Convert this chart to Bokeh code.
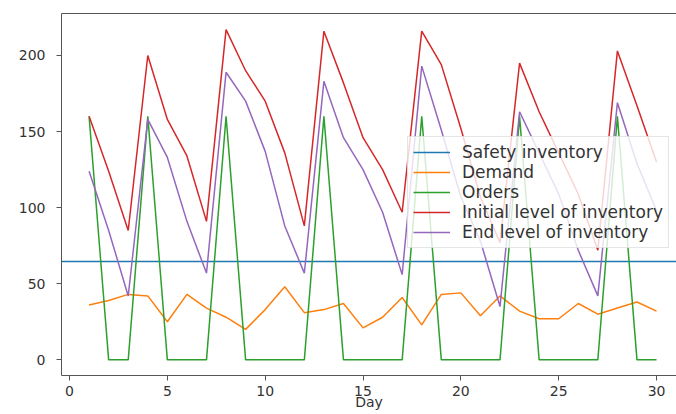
from bokeh.plotting import figure
from bokeh.models import Range1d, FixedTicker, LinearAxis
from bokeh.embed import file_html
from bokeh.resources import INLINE

# ---- data ----
days = [1, 2, 3, 4, 5, 6, 7, 8, 9, 10, 11, 12, 13, 14, 15,
        16, 17, 18, 19, 20, 21, 22, 23, 24, 25, 26, 27, 28, 29, 30]
safety_inventory = 64.7
demand = [36, 39, 43, 42, 25, 43, 34, 28, 20, 33, 48, 31, 33, 37, 21,
          28, 41, 23, 43, 44, 29, 42, 32, 27, 27, 37, 30, 34, 38, 32]
orders = [160, 0, 0, 160, 0, 0, 0, 160, 0, 0, 0, 0, 160, 0, 0,
          0, 0, 160, 0, 0, 0, 0, 160, 0, 0, 0, 0, 160, 0, 0]
initial_level = [160, 124, 85, 200, 158, 134, 91, 217, 190, 170, 136, 88, 216, 182, 146,
                 125, 97, 216, 194, 152, 107, 77, 195, 163, 136, 109, 72, 203, 167, 130]
end_level = [124, 85, 42, 158, 133, 91, 57, 189, 170, 137, 88, 57, 183, 146, 125,
             97, 56, 193, 151, 107, 78, 35, 163, 136, 109, 72, 42, 169, 129, 98]
x_ticks = [0, 5, 10, 15, 20, 25, 30]
y_ticks = [0, 50, 100, 150, 200]

FONT = "DejaVu Sans"
SPINE = "#555555"

p = figure(width=676, height=414, output_backend="svg", toolbar_location=None,
           x_range=Range1d(-0.41, 31.02), y_range=Range1d(-10.3, 227.6),
           min_border_left=61, min_border_right=0, min_border_top=13, min_border_bottom=39)
p.xgrid.visible = False
p.ygrid.visible = False
p.outline_line_color = None
p.background_fill_color = "white"

bottom_axis = p.below[0]
left_axis = p.left[0]

p.hspan(y=[safety_inventory], line_color="#1f77b4", line_width=1.5,
        legend_label="Safety inventory")
p.line(days, demand, line_color="#ff7f0e", line_width=1.5, legend_label="Demand")
p.line(days, orders, line_color="#2ca02c", line_width=1.5, legend_label="Orders")
p.line(days, initial_level, line_color="#d62728", line_width=1.5,
       legend_label="Initial level of inventory")
p.line(days, end_level, line_color="#9467bd", line_width=1.5,
       legend_label="End level of inventory")

for ax in (bottom_axis, left_axis):
    ax.minor_tick_line_color = None
    ax.major_tick_in = 0
    ax.major_tick_out = 5
    ax.axis_line_color = SPINE
    ax.major_tick_line_color = SPINE
    ax.major_label_text_font = FONT
    ax.major_label_text_font_size = "14px"
    ax.major_label_text_color = "#333333"

bottom_axis.ticker = FixedTicker(ticks=x_ticks)
left_axis.ticker = FixedTicker(ticks=y_ticks)
bottom_axis.major_label_standoff = 5
left_axis.major_label_standoff = 11
bottom_axis.axis_label = "Day"
bottom_axis.axis_label_text_font = FONT
bottom_axis.axis_label_text_font_size = "14px"
bottom_axis.axis_label_text_font_style = "normal"
bottom_axis.axis_label_text_color = "#333333"
bottom_axis.axis_label_standoff = -5

# top spine only (the right spine is cut off in the reference)
top_axis = LinearAxis(ticker=FixedTicker(ticks=[]), axis_line_color=SPINE,
                      major_tick_line_color=None, minor_tick_line_color=None,
                      major_tick_in=0, major_tick_out=0,
                      major_label_text_alpha=0, major_label_text_font_size="1px")
p.add_layout(top_axis, "above")

lg = p.legend[0]
lg.location = (346, 127)
lg.glyph_width = 37
lg.glyph_height = 20
lg.label_height = 20
lg.spacing = 0
lg.padding = 5
lg.margin = 0
lg.label_standoff = 12
lg.label_text_font = FONT
lg.label_text_font_size = "17px"
lg.label_text_color = "#333333"
lg.border_line_color = "#cccccc"
lg.background_fill_alpha = 0.8

open("out.html", "w").write(file_html(p, INLINE))
